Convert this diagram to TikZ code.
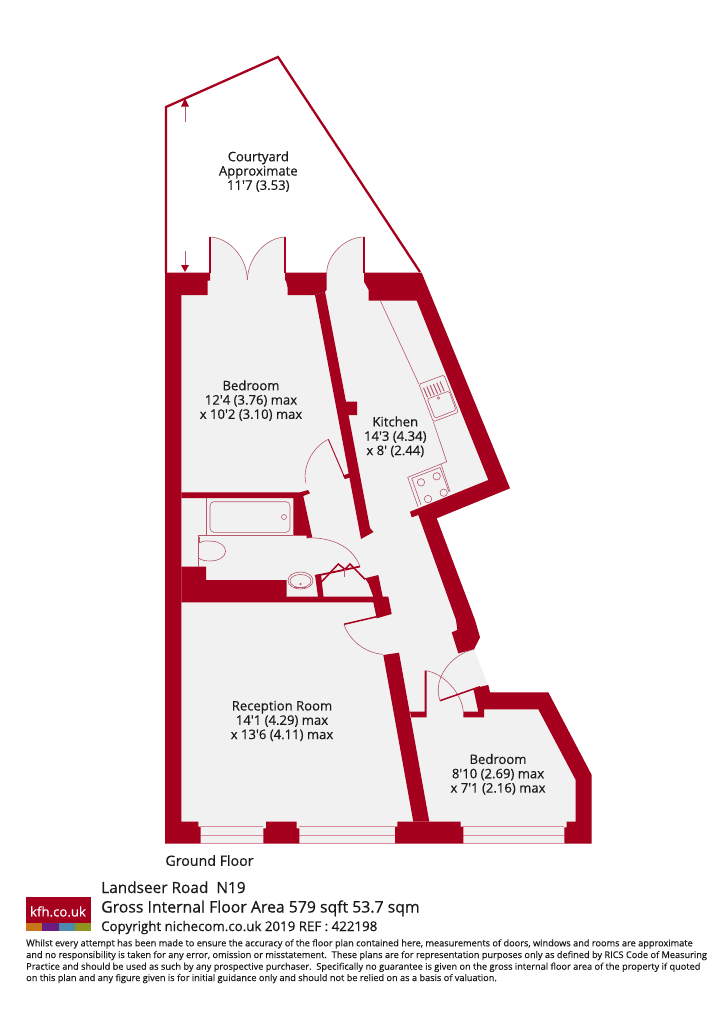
\documentclass[tikz,border=0pt]{standalone}
\usepackage{fontspec}
\setmainfont{Open Sans}
\newfontfamily\medf{Open Sans}[FakeBold=0.35]
\newfontfamily\medg{Open Sans}[FakeBold=0.6]
\definecolor{wall}{HTML}{A5001E}
\definecolor{thin}{HTML}{B4586A}
\definecolor{floorc}{HTML}{F2F1F1}
\definecolor{win}{HTML}{D98C9A}
\definecolor{logoa}{HTML}{C8761A}
\definecolor{logob}{HTML}{6A1D7E}
\definecolor{logoc}{HTML}{4A8BAE}
\definecolor{logod}{HTML}{8F9420}
\tikzset{
 wallfill/.style={fill=wall,draw=none},
 thinl/.style={draw=thin,line width=.6pt},
 winl/.style={draw=win,line width=.8pt},
 leaf/.style={draw=wall,line width=1.5pt},
 jamb/.style={draw=wall,line width=2pt},
 roomlabel/.style={align=center,inner sep=0pt,text=black!90,font=\medf\fontsize{13.1}{14.3}\selectfont},
 footl/.style={anchor=base west,inner sep=0pt,text=black!90},
}
\begin{document}
\begin{tikzpicture}[x=1pt,y=-1pt]
\useasboundingbox (0,0) rectangle (715,1033);
\fill[white] (0,0) rectangle (715,1033);
% courtyard
\draw[wall,line width=2.3pt,line join=miter] (166,273) -- (166,107) -- (278,57) -- (420,272);
% floor
\fill[floorc] (166,273) -- (210,273) -- (210,237) .. controls (230,238) and (247,258) .. (247.3,280)
 .. controls (248,258) and (265,238) .. (285,237) -- (285,273) -- (326.7,273)
 .. controls (327,255) and (345,237) .. (364,237) -- (364,273) -- (421.7,273) -- (510,488.3) -- (436.7,518.3)
 -- (475,620) -- (474,649.3) -- (488,685) -- (490,692.3) -- (548.3,692.3) -- (591.7,775) -- (591.7,843.7) -- (166,843.7) -- cycle;
% arrows
\draw[thinl] (185,106) -- (185,121.7);
\fill[wall] (185,98.3) -- (189,106.7) -- (181,106.7) -- cycle;
\draw[thinl] (185,250.7) -- (185,265);
\fill[wall] (185,272) -- (181,265) -- (189,265) -- cycle;
% windows
\foreach \xa/\xb in {200.7/263.3,299.3/395,463.3/564.3}{
 \draw[winl] (\xa,826.7) -- (\xb,826.7);
 \draw[winl] (\xa,835.3) -- (\xb,835.3);
 \draw[winl] (\xa,843.3) -- (\xb,843.3);
}
% walls: left
\fill[wallfill] (165,272.7) -- (210,272.7) -- (210,280.7) -- (207.7,280.7) -- (207.7,295) -- (181.3,295)
 -- (181.3,821.7) -- (198.3,821.7) -- (198.3,826.7) -- (200.7,826.7) -- (200.7,843.7) -- (165,843.7) -- cycle;
% jambs
\draw[jamb] (210,237) -- (210,273);
\draw[jamb] (285,237) -- (285,273);
\draw[jamb] (364,237) -- (364,273);
% top middle
\fill[wallfill] (285,272.7) -- (326.7,272.7) -- (326.7,290) -- (325,291.7) -- (315,295) -- (287.7,295) -- (287.7,288) -- (286,280.7) -- (285,280.7) -- cycle;
% diagonal wall
\fill[wallfill] (315,295) -- (325,291.7) -- (346,401.7) -- (357,401.7) -- (357,415) -- (348.5,415) -- (370,528) -- (373.5,532) -- (361,539) -- cycle;
\fill[wallfill] (343,475.5) -- (350,473) -- (352,477) -- (345,479) -- cycle;
% kitchen outer
\fill[wallfill] (364,272.7) -- (421.7,272.7) -- (510,488.3) -- (436.7,518.3) -- (475,620) -- (480,637.3) -- (474,649.3) -- (458.3,653.3)
 -- (451.7,632.3) -- (457.3,630) -- (456,620) -- (418.3,515) -- (411.7,517.3) -- (410,511.7) -- (488.3,480) -- (416.7,300.7)
 -- (368.7,300.7) -- (368.7,290) -- (364,281.7) -- cycle;
% bedroom / bath wall
\fill[wallfill] (181.3,492.3) -- (300,492.3) -- (308,490) -- (310,493.3) -- (303.3,496) -- (312.3,537.7) -- (306.7,538.3) -- (306.7,535.7)
 -- (293.3,535.7) -- (293.3,498) -- (181.3,498) -- cycle;
% bathroom lower wall
\fill[wallfill] (181.3,566.7) -- (206,566.7) -- (206,580) -- (286,580) -- (286,596.7) -- (318,596.7) -- (315,575) -- (321,574) -- (323.5,596.7)
 -- (373.3,596.7) -- (368.3,583.3) -- (365,578.3) -- (378.3,575) -- (382.7,596.7) -- (388.3,596.7) -- (391.7,614) -- (376.7,618.3) -- (373.3,602.3) -- (181.3,602.3) -- cycle;
% reception wall
\fill[wallfill] (383.3,655) -- (399,652.7) -- (429.3,821.7) -- (413.3,821.7) -- cycle;
% bottom blocks
\fill[wallfill] (266,821.7) -- (296.7,821.7) -- (296.7,828.3) -- (299.3,828.3) -- (299.3,843.7) -- (263.3,843.7) -- (263.3,828.3) -- (266,828.3) -- cycle;
\fill[wallfill] (397.3,821.7) -- (460.7,821.7) -- (460.7,826.7) -- (463.3,826.7) -- (463.3,843.7) -- (395,843.7) -- (395,826.7) -- (397.3,826.7) -- cycle;
% small bedroom
\fill[wallfill] (463.3,711.7) -- (478.3,711.7) -- (473.3,688.3) -- (488.3,685) -- (490,692.3) -- (548.3,692.3) -- (591.7,775) -- (591.7,843.7)
 -- (564.3,843.7) -- (564.3,827.3) -- (566.7,827.3) -- (566.7,821.7) -- (575.7,821.7) -- (575.7,780) -- (538.3,709.3) -- (484,709.3) -- (484,717.3) -- (463.3,717.3) -- cycle;
\fill[wallfill] (410,711.7) -- (424.5,711.7) -- (424.5,670.7) -- (426.5,670.7) -- (426.5,717.3) -- (411.2,717.3) -- cycle;
% door leaves and swings
\draw[thinl] (210,237) .. controls (230,238) and (247,258) .. (247.3,280);
\draw[thinl] (285,237) .. controls (265,238) and (248,258) .. (247.3,280);
\draw[thinl] (364,237) .. controls (345,237) and (327,255) .. (326.7,273);
\draw[leaf,line width=.9pt] (328.3,439.3) -- (345,478.3);
\draw[thinl] (328.3,439.3) .. controls (312,447) and (302,468) .. (306,483.3);
\draw[leaf] (344,624.3) -- (376.7,616.7);
\draw[thinl] (344,624.3) .. controls (349,640) and (365,653) .. (382.7,654.3);
\draw[thinl] (426,670.7) .. controls (443,673) and (462,693) .. (463.3,711.7);
\draw[leaf] (440,700.7) -- (480,686.7);
\draw[thinl] (440,700.7) .. controls (432,678) and (452,654) .. (474,649.3);
% bifold door
\draw[leaf,line width=1.8pt] (315,576) -- (360,566.5);
\draw[leaf] (321.7,581.7) -- (338.3,564) -- (345,569.3) -- (350,564) -- (365,579.3);
\draw[thinl] (344.3,569.3) -- (344.3,576.7);
\draw[thinl] (360,566.5) .. controls (352,545) and (330,537.7) .. (308.3,537.7);
% bathroom fittings
\draw[thinl] (206,498) -- (206,535.7);
\draw[thinl] (293.3,535.7) -- (198.3,535.7) -- (198.3,566.7);
\draw[thinl,rounded corners=4pt] (210,501.7) rectangle (290,532.3);
\draw[thinl] (284,517) circle (2.5pt);
\draw[thinl] (199.5,537) -- (199.5,543);
\draw[thinl] (199.5,543) .. controls (203,540) and (208,541) .. (212,541.3) .. controls (220,541.5) and (225.6,546) .. (225.6,551.3) .. controls (225.6,557) and (218,561) .. (211,561) .. controls (205,561) and (200.5,560) .. (199,558);
\draw[thinl] (286,580) -- (286,596.7);
\draw[thinl] (300.5,580.5) ellipse (12.5pt and 8.5pt);
\draw[thinl] (300.5,581) ellipse (10.5pt and 6.5pt);
\draw[thinl] (294,587.5) -- (306,587.5);
\draw[thinl] (300.5,584) circle (.8pt);
% kitchen fittings
\draw[thinl] (380,300) -- (419,384.3);
\draw[thinl,rounded corners=1.5pt] (419,384.3) -- (444,375) -- (458.3,412.3) -- (433.3,421.7) -- cycle;
\draw[thinl,rounded corners=1.5pt] (427.3,399) -- (449,391) -- (456,410) -- (435,418.3) -- cycle;
\foreach \i in {0,1,2,3,4,5}{
 \draw[thinl,line width=1pt] ({423.5+3.3*\i},{387.7-1.25*\i}) -- ({427.7+3.3*\i},{397.5-1.25*\i});
}
\draw[thinl] (438.5,398) circle (1.2pt);
\draw[thinl] (433.3,421.7) -- (446.7,461.7) -- (407.7,477.3) -- (418,506.7);
\draw[thinl] (441,464) -- (450,491.7);
\draw[thinl] (411.7,478.3) -- (440,467.5) -- (449,492);
\draw[thinl] (411.7,478.3) -- (421,505);
\foreach \p in {(421,482.3),(436.7,476.3),(428,499),(443.7,492.7)}{
 \draw[thinl] \p circle (3.7pt);
}
% room labels
\node[roomlabel] (courtyard) at (258.3,171.6) {Courtyard\\Approximate\\11'7 (3.53)};
\node[roomlabel] (bed1) at (251,400.6) {Bedroom\\12'4 (3.76) max\\x 10'2 (3.10) max};
\node[roomlabel] (kitchen) at (395.3,436.8) {Kitchen\\14'3 (4.34)\\x 8' (2.44)};
\node[roomlabel] (bed2) at (498,774.3) {Bedroom\\8'10 (2.69) max\\x 7'1 (2.16) max};
\node[roomlabel] (reception) at (282,721) {Reception Room\\14'1 (4.29) max\\x 13'6 (4.11) max};
\node[roomlabel,font=\medf\fontsize{14.2}{15}\selectfont] (ground) at (209.5,860.5) {Ground Floor};
% logo
\fill[wall] (25.7,897.3) rectangle (90.7,922.7);
\fill[logoa] (25.7,922.7) rectangle (42.3,930.7);
\fill[logob] (42.3,922.7) rectangle (58.7,930.7);
\fill[logoc] (58.7,922.7) rectangle (75,930.7);
\fill[logod] (75,922.7) rectangle (90.7,930.7);
\node[inner sep=0pt,text=white,font=\medf\fontsize{13.2}{15}\selectfont] (logo) at (58,911.5) {kfh.co.uk};
% footer
\node[footl,font=\medf\fontsize{15.4}{16}\selectfont] (addr) at (101,893) {Landseer Road\ \ N19};
\node[footl,font=\medg\fontsize{15.8}{16}\selectfont] (area) at (101,912.5) {Gross Internal Floor Area 579 sqft 53.7 sqm};
\node[footl,font=\medg\fontsize{13.3}{14}\selectfont] (copy) at (101,931) {Copyright nichecom.co.uk 2019 REF : 422198};
\node[footl,font=\medf\fontsize{9.2}{11}\selectfont] (d1) at (26,946.3) {Whilst every attempt has been made to ensure the accuracy of the floor plan contained here, measurements of doors, windows and rooms are approximate};
\node[footl,font=\medf\fontsize{9.2}{11}\selectfont] (d2) at (26,958) {and no responsibility is taken for any error, omission or misstatement.\ \ These plans are for representation purposes only as defined by RICS Code of Measuring};
\node[footl,font=\medf\fontsize{9.2}{11}\selectfont] (d3) at (26,969.7) {Practice and should be used as such by any prospective purchaser.\ \ Specifically no guarantee is given on the gross internal floor area of the property if quoted};
\node[footl,font=\medf\fontsize{9.2}{11}\selectfont] (d4) at (26,981) {on this plan and any figure given is for initial guidance only and should not be relied on as a basis of valuation.};
\end{tikzpicture}
\end{document}
